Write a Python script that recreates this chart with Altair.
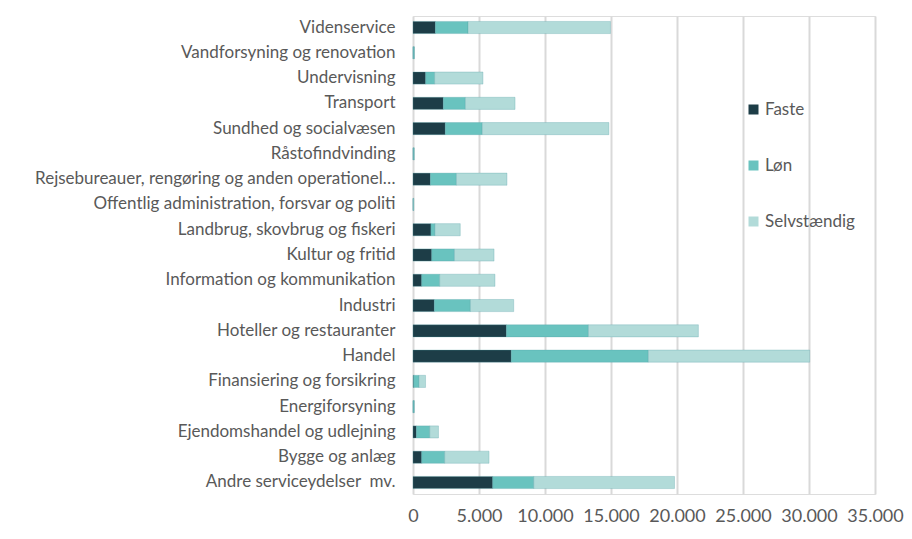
import altair as alt
import pandas as pd

categories = [
    "Videnservice",
    "Vandforsyning og renovation",
    "Undervisning",
    "Transport",
    "Sundhed og socialvæsen",
    "Råstofindvinding",
    "Rejsebureauer, rengøring og anden operationel…",
    "Offentlig administration, forsvar og politi",
    "Landbrug, skovbrug og fiskeri",
    "Kultur og fritid",
    "Information og kommunikation",
    "Industri",
    "Hoteller og restauranter",
    "Handel",
    "Finansiering og forsikring",
    "Energiforsyning",
    "Ejendomshandel og udlejning",
    "Bygge og anlæg",
    "Andre serviceydelser\u00a0 mv.",
]
faste = [1700, 10, 960, 2300, 2450, 10, 1320, 10, 1360, 1420, 660, 1620, 7080, 7450, 50, 10, 260, 660, 6040]
loen = [2470, 80, 680, 1670, 2800, 60, 1970, 20, 300, 1720, 1360, 2730, 6210, 10380, 400, 70, 1010, 1740, 3110]
selv = [10790, 10, 3660, 3760, 9590, 30, 3830, 40, 1920, 3000, 4190, 3280, 8330, 12220, 500, 20, 660, 3360, 10660]
series = ["Faste", "Løn", "Selvstændig"]
colors = ["#1d3d47", "#69c3bf", "#b2dbd9"]
ticks = [0, 5000, 10000, 15000, 20000, 25000, 30000, 35000]

rows = []
for i, c in enumerate(categories):
    for k, (s, vals) in enumerate(zip(series, [faste, loen, selv])):
        rows.append({"Branche": c, "Type": s, "Antal": vals[i], "order": k})
df = pd.DataFrame(rows)

FONT = "Lato"
label_expr = "replace(format(datum.value, ','), ',', '.')"

chart = (
    alt.Chart(df)
    .mark_bar(stroke="#4f9fa3", strokeWidth=0.6, strokeOpacity=0.5)
    .encode(
        y=alt.Y(
            "Branche:N",
            sort=categories,
            title=None,
            scale=alt.Scale(paddingInner=0.52, paddingOuter=0.215),
            axis=alt.Axis(
                domain=False,
                ticks=False,
                labelPadding=18,
                labelFont=FONT,
                labelFontSize=17,
                labelColor="#595959",
                labelLimit=420,
            ),
        ),
        x=alt.X(
            "sum(Antal):Q",
            stack="zero",
            title=None,
            scale=alt.Scale(domain=[0, 35000], nice=False),
            axis=alt.Axis(
                values=ticks,
                labelExpr=label_expr,
                labelOverlap=False,
                labelFlush=False,
                domain=False,
                ticks=False,
                labelPadding=13,
                labelFont=FONT,
                labelFontSize=18,
                labelColor="#595959",
                grid=True,
                gridColor="#d9d9d9",
                gridWidth=2,
            ),
        ),
        color=alt.Color(
            "Type:N",
            sort=series,
            scale=alt.Scale(domain=series, range=colors),
            legend=alt.Legend(
                title=None,
                orient="none",
                legendX=332,
                legendY=85,
                symbolType="square",
                symbolSize=100,
                symbolStrokeWidth=0,
                labelFont=FONT,
                labelFontSize=17,
                labelColor="#595959",
                rowPadding=38,
                labelOffset=3,
            ),
        ),
        order=alt.Order("order:Q", sort="ascending"),
    )
    .properties(
        width=462,
        height=478,
        autosize=alt.AutoSizeParams(type="none"),
        padding={"left": 405, "top": 8, "right": 29, "bottom": 37},
    )
    .configure_view(stroke=None)
    .configure(background="#ffffff")
)

chart.save("out.html", embed_options={"renderer": "svg", "actions": False})
